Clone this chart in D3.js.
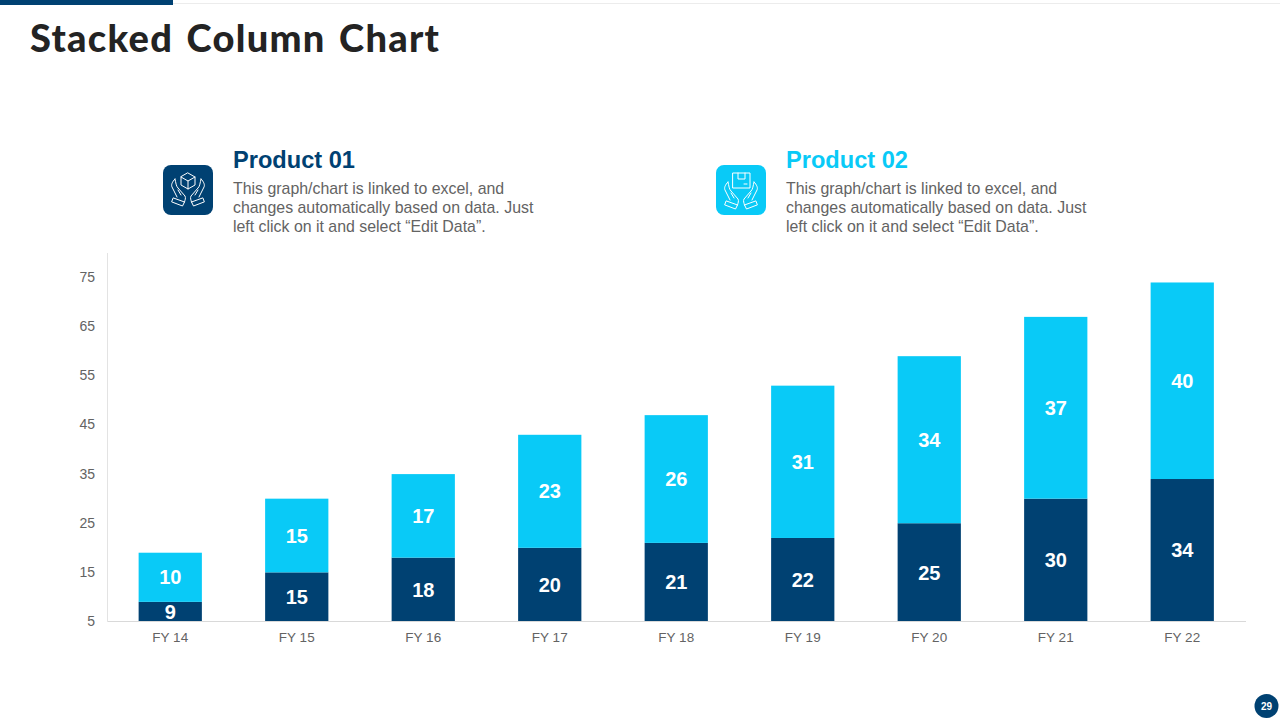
<!DOCTYPE html>
<html>
<head>
<meta charset="utf-8">
<title>Stacked Column Chart</title>
<script src="https://cdn.jsdelivr.net/npm/d3@7/dist/d3.min.js"></script>
<style>
  html, body { margin: 0; padding: 0; background: #fff; }
  svg { display: block; }
  text { font-family: "Liberation Sans", Arial, sans-serif; }
</style>
</head>
<body>
<svg id="chart" width="1280" height="720"></svg>
<script>
"use strict";

const categories = ['FY 14', 'FY 15', 'FY 16', 'FY 17', 'FY 18', 'FY 19', 'FY 20', 'FY 21', 'FY 22']
const product01 = [9, 15, 18, 20, 21, 22, 25, 30, 34]
const product02 = [10, 15, 17, 23, 26, 31, 34, 37, 40]
const yTicks = [5, 15, 25, 35, 45, 55, 65, 75]
const seriesNames = ['Product 01', 'Product 02']
const blurbLines = [
  'This graph/chart is linked to excel, and',
  'changes automatically based on data. Just',
  'left click on it and select “Edit Data”.',
]

const NAVY = '#004172'
    , CYAN = '#09caf7'
    , GREY = '#636363'

const svg = d3.select('#chart')

// top strip
svg.append('rect').attr('x', 173).attr('y', 3).attr('width', 1107).attr('height', 1).attr('fill', '#ececec')
svg.append('rect').attr('x', 0).attr('y', 0).attr('width', 173).attr('height', 5).attr('fill', NAVY)

svg.append('text')
  .attr('x', 30)
  .attr('y', 51.5)
  .attr('font-size', 38)
  .attr('font-weight', 900)
  .attr('letter-spacing', 1.3)
  .attr('word-spacing', 3)
  .attr('fill', '#232323')
  .style('font-family', 'Lato, sans-serif')
  .text('Stacked Column Chart')

// chart
const x = d3.scaleBand()
  .domain(categories)
  .range([107, 1245.5])
  .paddingInner(0.5)
  .paddingOuter(0.25)

const y = d3.scaleLinear().domain([5, 80]).range([621.5, 253])

const rows = categories.map((c, i) => ({ cat: c, a: product01[i], b: product02[i] }))
const stacked = d3.stack().keys(['a', 'b'])(rows)
const colors = [NAVY, CYAN]

// the axis starts at 5, so clamp the bottom of the stack to it
const bottom = v => y(Math.max(v, y.domain()[0]))

const layers = svg.append('g')
  .selectAll('g')
  .data(stacked)
  .join('g')
  .attr('fill', (d, i) => colors[i])

layers.selectAll('rect')
  .data(d => d)
  .join('rect')
  .attr('x', d => x(d.data.cat))
  .attr('y', d => y(d[1]))
  .attr('width', x.bandwidth())
  .attr('height', d => bottom(d[0]) - y(d[1]))

layers.selectAll('text')
  .data(d => d)
  .join('text')
  .attr('x', d => x(d.data.cat) + x.bandwidth() / 2)
  .attr('y', d => (bottom(d[0]) + y(d[1])) / 2)
  .attr('dy', '0.36em')
  .attr('text-anchor', 'middle')
  .attr('font-size', 20)
  .attr('font-weight', 700)
  .attr('fill', '#fff')
  .text(d => d[1] - d[0])

const yAxis = svg.append('g')
  .attr('transform', 'translate(107,-0.5)')
  .call(d3.axisLeft(y).tickValues(yTicks).tickSize(0).tickPadding(12))

const xAxis = svg.append('g')
  .attr('transform', 'translate(0,621)')
  .call(d3.axisBottom(x).tickSize(0).tickPadding(11))

yAxis.selectAll('text').attr('font-size', 14).attr('fill', GREY).style('font-family', '"Liberation Sans", Arial, sans-serif')
xAxis.selectAll('text').attr('font-size', 13.5).attr('fill', GREY).style('font-family', '"Liberation Sans", Arial, sans-serif')
yAxis.select('.domain').attr('stroke', '#e3e3e3')
xAxis.select('.domain').attr('stroke', '#d9d9d9')

// hands are shared by both icons
function drawHands(g) {
  const hand = 'M-13 -11 C-16 -8 -17 -5 -16 -3 L-11 7 M-13 -11 C-12 -7 -12 -4 -10 -2 L-3 6 C-2 8 -3 10 -3.5 12 M-10 0 L-7 5 M-14.5 8 L-3.5 12 L-5.5 16 L-16 12 Z'
  g.append('path').attr('d', hand)
  g.append('path').attr('d', hand).attr('transform', 'scale(-1,1)')
}

function drawIcon(parent, color, kind) {
  const g = parent.append('g')
  g.append('rect')
    .attr('x', -25).attr('y', -25)
    .attr('width', 50).attr('height', 50)
    .attr('rx', 8)
    .attr('fill', color)

  const lines = g.append('g')
    .attr('fill', 'none')
    .attr('stroke', '#fff')
    .attr('stroke-width', 1)
    .attr('stroke-linejoin', 'round')
    .attr('stroke-linecap', 'round')

  drawHands(lines.append('g').attr('transform', kind === 'cube' ? 'translate(0,0)' : 'translate(0,3)'))

  if (kind === 'cube') {
    lines.append('path').attr('d', 'M0 -17 L7 -13 L7 -5 L0 -1 L-7 -5 L-7 -13 Z M-7 -13 L0 -9 L7 -13 M0 -9 L0 -1')
  } else {
    lines.append('path').attr('d', 'M-8 -17 L9 -17 L9 -2 L-8 -2 Z M-3 -17 L-3 -11 L4 -11 L4 -17 M3 -6 L6 -6')
  }
  return g
}

const headerColors = [NAVY, CYAN]
const iconKinds = ['cube', 'parcel']
const headerLeft = [233, 786]

headerLeft.forEach((left, i) => {
  drawIcon(svg, headerColors[i], iconKinds[i]).attr('transform', `translate(${left - 45},190)`)

  svg.append('text')
    .attr('x', left)
    .attr('y', 168)
    .attr('font-size', 23.6)
    .attr('font-weight', 700)
    .attr('fill', headerColors[i])
    .text(seriesNames[i])

  svg.append('g')
    .selectAll('text')
    .data(blurbLines)
    .join('text')
    .attr('x', left)
    .attr('y', (d, j) => 194 + j * 19)
    .attr('font-size', 15.9)
    .attr('fill', GREY)
    .text(d => d)
})

// page number
svg.append('circle').attr('cx', 1266.5).attr('cy', 706).attr('r', 12).attr('fill', NAVY)
svg.append('text')
  .attr('x', 1266.5)
  .attr('y', 706)
  .attr('dy', '0.36em')
  .attr('text-anchor', 'middle')
  .attr('font-size', 10)
  .attr('font-weight', 700)
  .attr('fill', '#fff')
  .text('29')
</script>
</body>
</html>
